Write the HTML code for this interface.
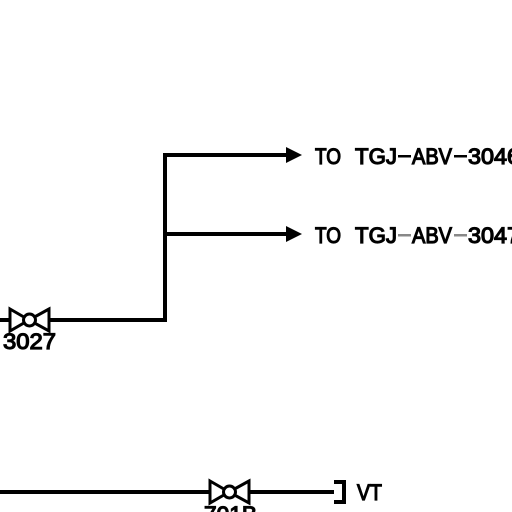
<!DOCTYPE html>
<html><head><meta charset="utf-8"><style>
html,body{margin:0;padding:0;background:#fff;width:512px;height:512px;overflow:hidden}
svg text{font-family:"Liberation Sans",sans-serif;fill:#000;stroke:#000;stroke-width:1.2}
</style></head><body>
<svg width="512" height="512" viewBox="0 0 512 512">
<g stroke="#000" stroke-width="4" fill="none">
<line x1="0" y1="320" x2="10" y2="320"/>
<line x1="49" y1="320" x2="165" y2="320"/>
<line x1="165" y1="153" x2="165" y2="322"/>
<line x1="163" y1="155" x2="290" y2="155"/>
<line x1="165" y1="234" x2="290" y2="234"/>
<line x1="0" y1="492" x2="210" y2="492"/>
<line x1="249" y1="492" x2="334" y2="492"/>
<polyline points="334,482 344,482 344,502 334,502"/>
</g>
<polygon points="286,147 302,155 286,163" fill="#000"/>
<polygon points="286,226 302,234 286,242" fill="#000"/>
<g stroke="#000" stroke-width="3" fill="#fff">
<polygon points="10,309 29,320 10,331"/>
<polygon points="49,309 29,320 49,331"/>
<circle cx="29.5" cy="320" r="6"/>
</g>
<g stroke="#000" stroke-width="3" fill="#fff">
<polygon points="210,481 229,492 210,503"/>
<polygon points="249,481 229,492 249,503"/>
<circle cx="229.5" cy="492" r="6"/>
</g>
<text x="3" y="349" font-size="22" textLength="53" lengthAdjust="spacingAndGlyphs">3027</text>
<text x="204" y="522" font-size="22" textLength="53" lengthAdjust="spacingAndGlyphs">701B</text>
<g font-size="22">
<text x="315" y="164" textLength="26" lengthAdjust="spacingAndGlyphs">TO</text>
<text x="355" y="164" textLength="42" lengthAdjust="spacingAndGlyphs">TGJ</text>
<rect x="398" y="155" width="13" height="2.5" fill="#000"/>
<text x="412" y="164" textLength="40" lengthAdjust="spacingAndGlyphs">ABV</text>
<rect x="454" y="155" width="13" height="2.5" fill="#000"/>
<text x="468" y="164" textLength="52" lengthAdjust="spacingAndGlyphs">3046</text>
</g>
<g font-size="22">
<text x="315" y="243" textLength="26" lengthAdjust="spacingAndGlyphs">TO</text>
<text x="355" y="243" textLength="42" lengthAdjust="spacingAndGlyphs">TGJ</text>
<rect x="398" y="234" width="13" height="2.5" fill="#888"/>
<text x="412" y="243" textLength="40" lengthAdjust="spacingAndGlyphs">ABV</text>
<rect x="454" y="234" width="13" height="2.5" fill="#888"/>
<text x="468" y="243" textLength="52" lengthAdjust="spacingAndGlyphs">3047</text>
</g>
<text x="357" y="500" font-size="22" textLength="25" lengthAdjust="spacingAndGlyphs">VT</text>
</svg>
</body></html>
